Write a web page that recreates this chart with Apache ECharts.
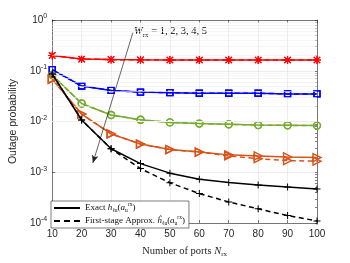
<!DOCTYPE html>
<html><head><meta charset="utf-8">
<script src="https://cdn.jsdelivr.net/npm/echarts@6/dist/echarts.min.js"></script>
<style>html,body{margin:0;padding:0;background:#fff}#c{width:350px;height:263px}</style>
</head><body><div id="c"></div>
<script>
// ---- data ----
const ports = [10, 20, 30, 40, 50, 60, 70, 80, 90, 100];
const w1Exact  = [0.20, 0.170, 0.166, 0.164, 0.163, 0.163, 0.163, 0.163, 0.163, 0.163];
const w1Approx = [0.20, 0.170, 0.166, 0.164, 0.163, 0.163, 0.163, 0.163, 0.163, 0.163];
const w2Exact  = [0.105, 0.050, 0.041, 0.038, 0.037, 0.036, 0.036, 0.036, 0.035, 0.035];
const w2Approx = [0.105, 0.050, 0.041, 0.038, 0.037, 0.036, 0.036, 0.036, 0.035, 0.035];
const w3Exact  = [0.082, 0.0226, 0.0134, 0.0108, 0.0096, 0.0091, 0.0088, 0.0085, 0.0084, 0.0083];
const w3Approx = [0.082, 0.0226, 0.0134, 0.0108, 0.0096, 0.0091, 0.0088, 0.0085, 0.0084, 0.0083];
const w4Exact  = [0.068, 0.0140, 0.0057, 0.0036, 0.0028, 0.0025, 0.0022, 0.0021, 0.0020, 0.00195];
const w4Approx = [0.068, 0.0140, 0.0057, 0.0036, 0.0028, 0.0025, 0.0021, 0.00185, 0.0017, 0.00165];
const w5Exact  = [0.086, 0.0107, 0.0029, 0.00148, 0.00096, 0.00073, 0.00063, 0.00056, 0.00051, 0.00047];
const w5Approx = [0.086, 0.0107, 0.0029, 0.00118, 0.00062, 0.00038, 0.00026, 0.00019, 0.00014, 0.00011];
const xTicks = [10, 20, 30, 40, 50, 60, 70, 80, 90, 100];
const yDecades = [1e-4, 1e-3, 1e-2, 1e-1, 1];
const arrowStart = [37.4, 0.56];
const arrowEnd = [23.8, 0.00152];

// ---- helpers ----
const minorVals = [];
for (let e = -4; e < 0; e++) for (let m = 2; m <= 9; m++) minorVals.push(+(m * Math.pow(10, e)).toPrecision(3));
const pair = a => a.map((v, i) => [ports[i], v]);
const SANS = 'Liberation Sans', SERIF = 'Liberation Serif';
const PLUS = 'path://M4.3,0H5.7V4.3H10V5.7H5.7V10H4.3V5.7H0V4.3H4.3Z';
const AST = 'path://M0,4.3H10V5.7H0Z M4.3,0H5.7V10H4.3Z M1.5,0.5L9.5,8.5L8.5,9.5L0.5,1.5Z M8.5,0.5L9.5,1.5L1.5,9.5L0.5,8.5Z';
const TRI = 'path://M0,0L10,5L0,10Z';

function curve(data, color, symbol, size, hollow, dashed, z) {
  return {
    type: 'line', data: pair(data), symbol: symbol, symbolSize: size, z: z,
    lineStyle: { color: color, width: 1.5, type: dashed ? [5, 3.5] : 'solid' },
    itemStyle: hollow ? { color: 'rgba(255,255,255,0)', borderColor: color, borderWidth: 1.4 }
                      : { color: color, borderWidth: 0 },
    silent: true, animation: false, legendHoverLink: false
  };
}

const red = '#FF0000', blue = '#0000FF', green = '#77AC30', orange = '#D95319', black = '#000000';
const series = [
  { type: 'line', data: [], z: 1, silent: true,
    markLine: { silent: true, symbol: 'none', animation: false, label: { show: false },
      lineStyle: { color: '#eeeeee', width: 0.6, type: 'solid' },
      data: minorVals.map(v => ({ yAxis: v })) } },
  curve(w1Approx, red, AST, 8, false, true, 3),
  curve(w1Exact, red, AST, 8, false, false, 4),
  curve(w2Approx, blue, 'rect', 6, true, true, 3),
  curve(w2Exact, blue, 'rect', 6, true, false, 4),
  curve(w3Approx, green, 'circle', 7, true, true, 3),
  curve(w3Exact, green, 'circle', 7, true, false, 4),
  curve(w4Approx, orange, TRI, 8, true, true, 3),
  curve(w4Exact, orange, TRI, 8, true, false, 4),
  curve(w5Approx, black, PLUS, 7, false, true, 5),
  curve(w5Exact, black, PLUS, 7, false, false, 6),
  { name: 'exact', type: 'line', data: [], symbol: 'none', lineStyle: { color: black, width: 1.5 }, itemStyle: { color: black } },
  { name: 'approx', type: 'line', data: [], symbol: 'none', lineStyle: { color: black, width: 1.5, type: [6, 4] }, itemStyle: { color: black } },
  { type: 'line', data: [], z: 7, silent: true,
    markLine: { silent: true, animation: false, label: { show: false }, symbol: ['none', 'arrow'], symbolSize: [5, 8],
      lineStyle: { color: '#222', width: 0.7, type: 'solid' },
      data: [[{ coord: arrowStart }, { coord: arrowEnd }]] } }
];

const supRich = {
  b: { fontFamily: SANS, fontSize: 10, color: '#262626', lineHeight: 14 },
  s: { fontFamily: SANS, fontSize: 7, color: '#262626', verticalAlign: 'top', lineHeight: 14 }
};
const mathRich = {
  t: { fontFamily: SERIF, fontSize: 9, color: '#111', lineHeight: 12 },
  i: { fontFamily: SERIF, fontSize: 9, fontStyle: 'italic', color: '#111', lineHeight: 12 },
  sub: { fontFamily: SERIF, fontSize: 5.5, color: '#111', verticalAlign: 'bottom', lineHeight: 12 },
  sup: { fontFamily: SERIF, fontSize: 5.5, color: '#111', verticalAlign: 'top', lineHeight: 12 }
};

const chart = echarts.init(document.getElementById('c'), null, { renderer: 'canvas' });
chart.setOption({
  animation: false,
  backgroundColor: '#fff',
  grid: { left: 45, right: 33, top: 20, bottom: 30 },
  xAxis: [{
    type: 'value', min: 10, max: 100, interval: 10, position: 'bottom',
    axisLine: { show: true, lineStyle: { color: '#262626', width: 0.6 } },
    axisTick: { show: true, inside: true, length: 3, lineStyle: { color: '#262626', width: 0.6 } },
    axisLabel: { fontFamily: SANS, fontSize: 10, color: '#262626', margin: 6 },
    splitLine: { show: true, lineStyle: { color: '#e0e0e0', width: 0.6 } },
    name: '{t|Number of ports }{i|N}{sub|rx}', nameLocation: 'middle', nameGap: 21,
    nameTextStyle: { rich: { t: { fontFamily: SERIF, fontSize: 10.5, color: '#262626', lineHeight: 14 },
      i: { fontFamily: SERIF, fontSize: 10.5, fontStyle: 'italic', color: '#262626', lineHeight: 14 },
      sub: { fontFamily: SERIF, fontSize: 7, color: '#262626', verticalAlign: 'bottom', lineHeight: 14 } } }
  }, {
    type: 'value', min: 10, max: 100, interval: 10, position: 'top',
    axisLine: { show: true, lineStyle: { color: '#262626', width: 0.6 } },
    axisTick: { show: true, inside: true, length: 3, lineStyle: { color: '#262626', width: 0.6 } },
    axisLabel: { show: false }, splitLine: { show: false }
  }],
  yAxis: [{
    type: 'log', logBase: 10, min: 1e-4, max: 1, position: 'left',
    axisLine: { show: true, lineStyle: { color: '#262626', width: 0.6 } },
    axisTick: { show: true, inside: true, length: 3, lineStyle: { color: '#262626', width: 0.6 } },
    splitLine: { show: true, lineStyle: { color: '#e0e0e0', width: 0.6 } },
    axisLabel: { margin: 5, formatter: v => '{b|10}{s|' + Math.round(Math.log10(v)) + '}', rich: supRich },
    name: 'Outage probability', nameLocation: 'middle', nameGap: 27,
    nameTextStyle: { fontFamily: SANS, fontSize: 10.5, color: '#262626' }
  }, {
    type: 'log', logBase: 10, min: 1e-4, max: 1, position: 'right',
    axisLine: { show: true, lineStyle: { color: '#262626', width: 0.6 } },
    axisTick: { show: true, inside: true, length: 2, customValues: minorVals.concat(yDecades), lineStyle: { color: '#262626', width: 0.6 } },
    axisLabel: { show: false }, splitLine: { show: false }
  }],
  legend: {
    data: ['exact', 'approx'], orient: 'vertical', left: 51, top: 201,
    padding: [1, 4, 1, 2], itemGap: 1, itemWidth: 26, itemHeight: 10,
    backgroundColor: '#fff', borderColor: '#262626', borderWidth: 0.6, borderRadius: 0,
    selectedMode: false,
    itemStyle: { color: 'rgba(0,0,0,0)', borderWidth: 0, opacity: 0 },
    formatter: n => n === 'exact'
      ? '{t|Exact }{i|h}{sub|ℓu}{t|(}{i|a}{sub|u}{sup|rx}{t|)}'
      : '{t|First-stage Approx. }{i|ĥ}{sub|ℓu}{t|(}{i|a}{sub|u}{sup|rx}{t|)}',
    textStyle: { rich: mathRich }
  },
  graphic: [{
    type: 'text', left: 134, top: 26,
    style: { text: '{i|W}{sub|rx}{t| = 1, 2, 3, 4, 5}', rich: {
      t: { fontFamily: SERIF, fontSize: 10.5, color: '#111', lineHeight: 14 },
      i: { fontFamily: SERIF, fontSize: 10.5, fontStyle: 'italic', color: '#111', lineHeight: 14 },
      sub: { fontFamily: SERIF, fontSize: 7, color: '#111', verticalAlign: 'bottom', lineHeight: 14 } } }
  }],
  series: series
});
</script></body></html>
